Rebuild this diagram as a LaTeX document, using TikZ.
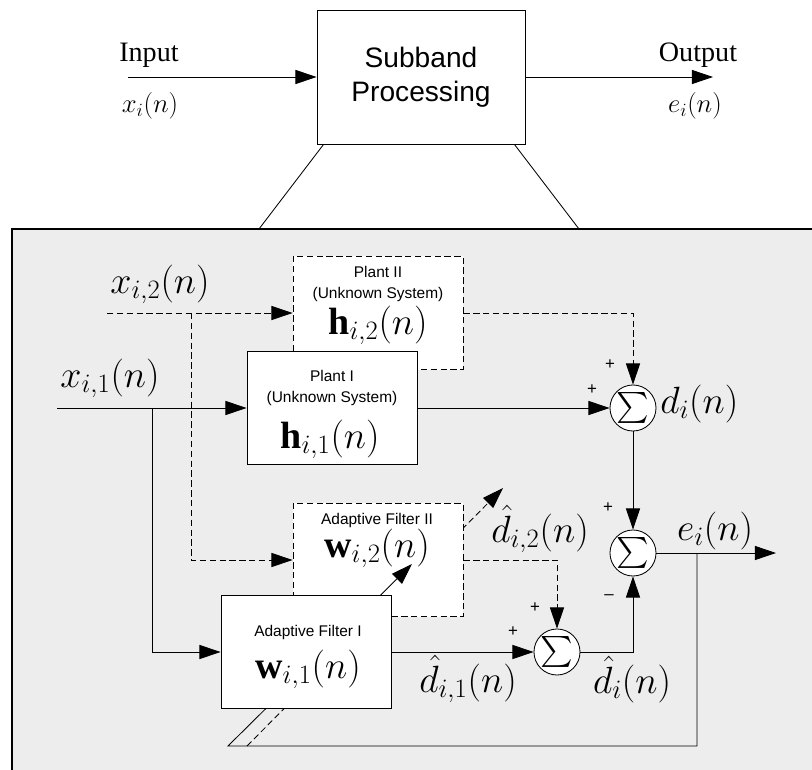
\RequirePackage{fix-cm}
\documentclass[tikz,border=0pt]{standalone}
\usepackage{amsmath, amssymb}
\usepackage{fontspec}
\setmainfont{Liberation Serif}
\setsansfont{Liberation Sans}
\usepackage{tikz}
\usetikzlibrary{arrows.meta, calc, positioning}
\definecolor{panelgray}{RGB}{237, 237, 237}

\tikzset{
  blk/.style={draw, fill=white, line width=0.6pt, minimum width=4.25cm, minimum height=2.825cm, inner sep=0pt},
  dsh/.style={dash pattern=on 4.5pt off 2.5pt},
  sumnode/.style={draw, circle, fill=white, line width=0.6pt, minimum size=1.15cm, inner sep=0pt, font=\fontsize{22}{22}\selectfont},
  sig/.style={anchor=base, inner sep=0pt, font=\fontsize{27}{27}\selectfont},
  tag/.style={align=center, inner sep=0pt, font=\sffamily\fontsize{11}{15.5}\selectfont},
  sgn/.style={inner sep=0pt, font=\sffamily\fontsize{12}{12}\selectfont},
  wire/.style={line width=0.6pt},
}

\begin{document}
\begin{tikzpicture}[x=0.025cm, y=-0.025cm, >={Triangle[length=15pt, width=10pt]}]
  \useasboundingbox (0,0) rectangle (812,770);

  \coordinate (inTop)  at (128,77);
  \coordinate (outTop) at (713,77);
  \coordinate (trapL)  at (259,229);
  \coordinate (trapR)  at (579,229);

  \coordinate (inB)    at (107,313);
  \coordinate (brB)    at (191,313);
  \coordinate (inA)    at (57,408);
  \coordinate (brA)    at (152,408);
  \coordinate (outE)   at (776,553);
  \coordinate (tapE)   at (697,553);
  \coordinate (fbL)    at (228,746);
  \coordinate (fbD)    at (247,746);
  \coordinate (adaptA) at (412,564);
  \coordinate (adaptB) at (503,488);

  % Top level block
  \node[blk, minimum width=5.2cm, minimum height=3.35cm, align=center,
        font=\sffamily\fontsize{20}{24}\selectfont] (sub) at (421,77) {Subband\\Processing};
  \draw[wire, ->] (inTop) -- (sub.west);
  \draw[wire, ->] (sub.east) -- (outTop);
  \node[anchor=base, font=\fontsize{20}{20}\selectfont] (lblIn)  at (149,61)  {Input};
  \node[anchor=base, font=\fontsize{19}{19}\selectfont] (lblXi)  at (150,112) {$x_i(n)$};
  \node[anchor=base, font=\fontsize{20}{20}\selectfont] (lblOut) at (698,61)  {Output};
  \node[anchor=base, font=\fontsize{19}{19}\selectfont] (lblEi)  at (695,112) {$e_i(n)$};

  % Panel
  \draw[line width=0.8pt, fill=panelgray] (12,229) rectangle (830,790);
  \draw[wire] ($(sub.south west)+(7,0)$) -- (trapL);
  \draw[wire] ($(sub.south east)+(-11,0)$) -- (trapR);

  % Adaptation path of filter II (behind the filters)
  \draw[wire, dsh, ->] (fbD) -- (adaptB);

  % Plants
  \node[blk, dsh] (plantB) at (378,313) {};
  \node[tag] (plantBtag) at (378,284) {Plant II\\(Unknown System)};
  \node[sig] (plantBsym) at (378,334) {$\mathbf{h}_{i,2}(n)$};
  \node[blk] (plantA) at (332,408) {};
  \node[tag] (plantAtag) at (332,388) {Plant I\\(Unknown System)};
  \node[sig] (plantAsym) at (330,448) {$\mathbf{h}_{i,1}(n)$};

  % Filter II
  \node[blk, dsh] (filtB) at (378,560) {};
  \node[tag] (filtBtag) at (377,520) {Adaptive Filter II};
  \node[sig] (filtBsym) at (377,557) {$\mathbf{w}_{i,2}(n)$};

  % Sums
  \node[sumnode] (sumD) at (633,408) {$\sum$};
  \node[sumnode] (sumE) at (633,553) {$\sum$};
  \node[sumnode] (sumY) at (557,652) {$\sum$};

  % Error feedback to filter I
  \draw[wire, ->] (tapE) |- (fbL) -- (adaptA);

  % Filter I
  \node[blk] (filtA) at (306,652) {};
  \node[tag] (filtAtag) at (308,632) {Adaptive Filter I};
  \node[sig] (filtAsym) at (308,678) {$\mathbf{w}_{i,1}(n)$};

  % Inputs
  \draw[wire, dsh, ->] (inB) -- (plantB.west);
  \draw[wire, dsh, ->] (brB) |- (filtB.west);
  \draw[wire, ->] (inA) -- (plantA.west);
  \draw[wire, ->] (brA) |- (filtA.west);

  % Plant outputs
  \draw[wire, dsh, ->] (plantB.east) -| (sumD.north);
  \draw[wire, ->] (plantA.east) -- (sumD.west);
  \draw[wire, ->] (sumD) -- (sumE);
  \draw[wire, ->] (sumE) -- (outE);

  % Filter outputs
  \draw[wire, dsh, ->] (filtB.east) -| (sumY.north);
  \draw[wire, ->] (filtA.east) -- (sumY.west);
  \draw[wire, ->] (sumY.east) -| (sumE.south);

  % Signs
  \node[sgn] (sgnD1) at (610,365) {+};
  \node[sgn] (sgnD2) at (592,390) {+};
  \node[sgn] (sgnE1) at (608,508) {+};
  \node[sgn] (sgnE2) at (609,597) {--};
  \node[sgn] (sgnY1) at (535,608) {+};
  \node[sgn] (sgnY2) at (513,632) {+};

  % Signal labels
  \node[sig] (lblX2)  at (160,293) {$x_{i,2}(n)$};
  \node[sig] (lblX1)  at (110,387) {$x_{i,1}(n)$};
  \node[sig, anchor=base west] (lblD) at (660,413) {$d_i(n)$};
  \node[sig] (lblE)   at (715,540) {$e_i(n)$};
  \node[sig] (lblDh2) at (540,542) {$\hat{d}_{i,2}(n)$};
  \node[sig] (lblDh1) at (468,692) {$\hat{d}_{i,1}(n)$};
  \node[sig] (lblDh)  at (632,693) {$\hat{d}_i(n)$};

\end{tikzpicture}
\end{document}
